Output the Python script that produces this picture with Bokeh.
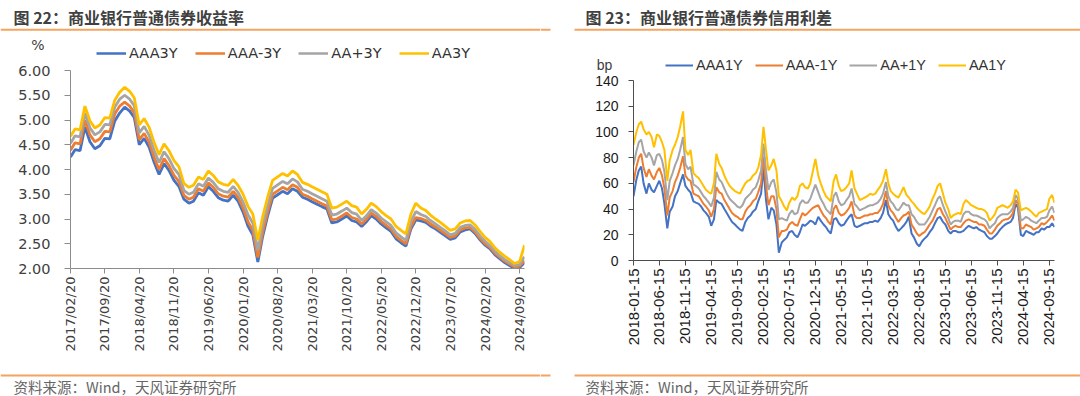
import math
import pandas as pd
from bokeh.plotting import figure
from bokeh.layouts import row, column
from bokeh.models import (Range1d, FixedTicker, DatetimeTickFormatter, PrintfTickFormatter,
                          Legend, LegendItem, ColumnDataSource)
from bokeh.core.properties import value
from bokeh.embed import file_html
from bokeh.resources import INLINE

# ---------------- Chart 22: yields (%), monthly ----------------
yield_title = "图 22：商业银行普通债券收益率"
yield_unit = "%"
yield_start = "2017-02-20"
yield_names = ["AAA3Y", "AAA-3Y", "AA+3Y", "AA3Y"]
aaa3y = [4.25, 4.40, 4.38, 4.86, 4.56, 4.42, 4.48, 4.63, 4.62, 4.98,
         5.14, 5.26, 5.18, 5.05, 4.50, 4.63, 4.45, 4.15, 3.90, 4.12,
         3.98, 3.78, 3.66, 3.40, 3.32, 3.36, 3.53, 3.48, 3.65, 3.56,
         3.43, 3.38, 3.36, 3.48, 3.36, 3.14, 2.85, 2.68, 2.13, 2.65,
         3.07, 3.42, 3.49, 3.56, 3.51, 3.61, 3.56, 3.44, 3.40, 3.35,
         3.30, 3.25, 3.20, 2.92, 2.94, 3.00, 3.06, 2.97, 2.94, 2.85,
         2.95, 3.07, 3.00, 2.90, 2.82, 2.75, 2.60, 2.52, 2.45, 2.80,
         2.98, 2.96, 2.93, 2.86, 2.80, 2.73, 2.66, 2.59, 2.62, 2.74,
         2.78, 2.80, 2.71, 2.58, 2.47, 2.40, 2.28, 2.20, 2.12, 2.06,
         2.00, 2.02, 2.12]
aaa_minus_3y = [4.39, 4.54, 4.52, 5.00, 4.70, 4.56, 4.62, 4.77, 4.76, 5.12,
                5.28, 5.36, 5.28, 5.15, 4.60, 4.73, 4.55, 4.25, 4.00, 4.22,
                4.08, 3.88, 3.76, 3.48, 3.40, 3.44, 3.61, 3.56, 3.73, 3.64,
                3.51, 3.46, 3.44, 3.56, 3.44, 3.22, 2.94, 2.77, 2.22, 2.73,
                3.15, 3.50, 3.57, 3.64, 3.59, 3.69, 3.64, 3.50, 3.46, 3.41,
                3.36, 3.31, 3.26, 2.98, 3.00, 3.06, 3.12, 3.03, 3.00, 2.90,
                3.00, 3.12, 3.05, 2.95, 2.87, 2.80, 2.65, 2.57, 2.50, 2.85,
                3.03, 3.01, 2.97, 2.90, 2.84, 2.77, 2.70, 2.63, 2.66, 2.78,
                2.82, 2.83, 2.74, 2.61, 2.50, 2.43, 2.31, 2.23, 2.15, 2.09,
                2.03, 2.05, 2.16]
aa_plus_3y = [4.53, 4.68, 4.66, 5.14, 4.84, 4.70, 4.76, 4.91, 4.90, 5.26,
              5.42, 5.50, 5.42, 5.29, 4.74, 4.87, 4.69, 4.39, 4.14, 4.36,
              4.22, 4.02, 3.90, 3.58, 3.50, 3.54, 3.71, 3.66, 3.83, 3.74,
              3.61, 3.56, 3.54, 3.66, 3.54, 3.34, 3.08, 2.92, 2.37, 2.87,
              3.28, 3.62, 3.69, 3.76, 3.71, 3.81, 3.75, 3.60, 3.56, 3.51,
              3.46, 3.41, 3.36, 3.08, 3.10, 3.16, 3.22, 3.13, 3.10, 2.97,
              3.07, 3.19, 3.12, 3.02, 2.94, 2.87, 2.72, 2.64, 2.57, 2.95,
              3.15, 3.09, 3.05, 2.97, 2.90, 2.83, 2.76, 2.68, 2.71, 2.83,
              2.87, 2.88, 2.79, 2.66, 2.55, 2.47, 2.35, 2.26, 2.18, 2.12,
              2.06, 2.08, 2.24]
aa3y = [4.67, 4.82, 4.80, 5.28, 4.98, 4.84, 4.90, 5.05, 5.04, 5.40,
        5.56, 5.66, 5.58, 5.45, 4.90, 5.03, 4.85, 4.55, 4.30, 4.52,
        4.38, 4.18, 4.06, 3.72, 3.64, 3.68, 3.85, 3.80, 3.97, 3.88,
        3.75, 3.70, 3.68, 3.80, 3.68, 3.50, 3.25, 3.10, 2.57, 3.05,
        3.45, 3.78, 3.85, 3.92, 3.87, 3.97, 3.90, 3.74, 3.70, 3.65,
        3.60, 3.55, 3.50, 3.22, 3.24, 3.30, 3.36, 3.27, 3.24, 3.10,
        3.20, 3.32, 3.25, 3.15, 3.07, 3.00, 2.85, 2.77, 2.70, 3.10,
        3.32, 3.22, 3.17, 3.08, 3.00, 2.93, 2.85, 2.77, 2.80, 2.92,
        2.96, 2.97, 2.88, 2.75, 2.63, 2.55, 2.42, 2.33, 2.25, 2.18,
        2.10, 2.14, 2.47]
yield_tick_labels = ["2017/02/20", "2017/09/20", "2018/04/20", "2018/11/20", "2019/06/20",
                     "2020/01/20", "2020/08/20", "2021/03/20", "2021/10/20", "2022/05/20",
                     "2022/12/20", "2023/07/20", "2024/02/20", "2024/09/20"]
yield_y_ticks = [2.0, 2.5, 3.0, 3.5, 4.0, 4.5, 5.0, 5.5, 6.0]

# ---------------- Chart 23: credit spreads (bp), semi-monthly ----------------
spread_title = "图 23：商业银行普通债券信用利差"
spread_unit = "bp"
spread_start = "2018-01-15"
spread_end = "2024-10-15"
spread_names = ["AAA1Y", "AAA-1Y", "AA+1Y", "AA1Y"]
aaa1y = [50, 63, 70, 73, 60, 52, 60, 55, 53, 58,
         62, 56, 44, 25, 38, 42, 50, 54, 60, 67,
         58, 55, 53, 46, 45, 44, 42, 39, 37, 34,
         27, 32, 47, 45, 44, 40, 37, 33, 30, 28,
         26, 24, 23, 30, 33, 35, 38, 40, 46, 52,
         72, 47, 32, 41, 39, 28, 6, 14, 16, 18,
         22, 23, 20, 18, 22, 28, 27, 29, 31, 30,
         28, 34, 31, 28, 26, 23, 21, 32, 33, 29,
         27, 28, 31, 34, 36, 27, 26, 27, 28, 29,
         29, 30, 30, 31, 30, 33, 37, 47, 36, 33,
         31, 26, 23, 25, 27, 30, 34, 21, 18, 13,
         11, 15, 17, 19, 22, 25, 29, 33, 34, 30,
         28, 23, 21, 23, 23, 22, 22, 23, 25, 27,
         26, 25, 26, 24, 23, 22, 19, 17, 17, 19,
         21, 24, 26, 28, 29, 30, 33, 44, 41, 20,
         19, 23, 22, 21, 20, 22, 22, 25, 24, 26,
         26, 29, 26]
aaa_minus_1y = [61, 73, 80, 83, 72, 65, 71, 66, 63, 69,
                72, 66, 56, 35, 49, 54, 61, 66, 72, 81,
                66, 63, 62, 52, 51, 50, 47, 44, 42, 39,
                34, 40, 57, 53, 52, 47, 44, 40, 37, 35,
                34, 32, 32, 38, 41, 43, 46, 48, 53, 60,
                81, 58, 43, 50, 50, 40, 18, 23, 23, 24,
                28, 30, 28, 27, 32, 37, 35, 37, 39, 41,
                42, 43, 39, 35, 33, 30, 28, 40, 43, 37,
                35, 36, 38, 41, 46, 35, 33, 33, 34, 35,
                35, 36, 36, 37, 37, 40, 44, 54, 43, 39,
                37, 33, 30, 33, 35, 36, 38, 28, 25, 21,
                19, 21, 22, 25, 28, 31, 35, 40, 41, 36,
                33, 28, 24, 26, 27, 26, 26, 29, 31, 32,
                31, 30, 30, 28, 28, 27, 24, 21, 21, 24,
                27, 29, 31, 32, 32, 34, 37, 47, 44, 25,
                25, 28, 27, 26, 24, 25, 26, 29, 28, 30,
                32, 35, 31]
aa_plus_1y = [74, 85, 92, 94, 85, 80, 84, 80, 74, 82,
              83, 78, 69, 47, 62, 68, 74, 79, 86, 96,
              75, 71, 73, 59, 58, 56, 53, 50, 48, 45,
              42, 49, 69, 63, 61, 56, 52, 48, 46, 44,
              42, 41, 43, 48, 50, 52, 55, 57, 62, 70,
              91, 70, 55, 61, 63, 53, 32, 33, 32, 31,
              36, 39, 36, 37, 44, 47, 45, 45, 48, 54,
              59, 53, 48, 44, 40, 38, 36, 50, 53, 46,
              43, 44, 47, 50, 56, 44, 42, 39, 40, 41,
              42, 43, 43, 44, 45, 48, 52, 61, 50, 46,
              44, 40, 39, 42, 45, 43, 43, 36, 34, 30,
              28, 28, 28, 31, 34, 39, 43, 48, 50, 43,
              38, 33, 28, 30, 31, 31, 30, 36, 38, 38,
              36, 35, 35, 34, 33, 32, 30, 25, 27, 29,
              33, 35, 36, 36, 36, 38, 41, 51, 48, 31,
              32, 34, 33, 31, 30, 29, 31, 33, 33, 34,
              39, 42, 37]
aa1y = [90, 100, 106, 108, 102, 98, 100, 96, 88, 98,
        97, 92, 86, 62, 78, 86, 90, 96, 104, 116,
        86, 82, 86, 68, 66, 64, 61, 58, 55, 53,
        52, 60, 83, 75, 72, 66, 62, 58, 56, 54,
        53, 52, 56, 60, 62, 63, 66, 68, 72, 82,
        104, 86, 70, 74, 79, 70, 50, 46, 42, 39,
        45, 49, 47, 50, 58, 60, 57, 56, 60, 70,
        79, 66, 60, 54, 50, 48, 46, 62, 67, 58,
        54, 55, 57, 60, 70, 56, 52, 47, 48, 49,
        50, 52, 51, 52, 55, 58, 62, 71, 60, 54,
        52, 50, 49, 53, 57, 51, 49, 46, 44, 41,
        39, 37, 36, 39, 42, 48, 52, 58, 60, 52,
        45, 40, 33, 35, 36, 37, 36, 44, 47, 45,
        43, 42, 41, 40, 40, 39, 37, 31, 33, 36,
        41, 42, 43, 42, 41, 43, 46, 55, 53, 39,
        40, 41, 40, 38, 36, 34, 37, 38, 39, 40,
        48, 51, 45]
spread_tick_labels = ["2018-01-15", "2018-06-15", "2018-11-15", "2019-04-15", "2019-09-15",
                      "2020-02-15", "2020-07-15", "2020-12-15", "2021-05-15", "2021-10-15",
                      "2022-03-15", "2022-08-15", "2023-01-15", "2023-06-15", "2023-11-15",
                      "2024-04-15", "2024-09-15"]
spread_y_ticks = [0, 20, 40, 60, 80, 100, 120, 140]

source_note = "资料来源：Wind，天风证券研究所"

# ---------------- styles ----------------
COLORS = ["#4472C4", "#ED7D31", "#A5A5A5", "#FFC000"]
ORANGE = "#F4A460"
CJK = "Noto Sans CJK SC"
W = 540

yield_dates = [pd.Timestamp(yield_start) + pd.DateOffset(months=i) for i in range(len(aa3y))]
spread_dates = list(pd.date_range(spread_start, spread_end, freq="SMS"))


def ms(ts):
    return pd.Timestamp(ts).value / 1e6


def blank(height):
    f = figure(width=W, height=height, x_range=Range1d(0, W), y_range=Range1d(height, 0),
               output_backend="svg", toolbar_location=None, min_border=0,
               x_axis_location=None, y_axis_location=None, outline_line_color=None)
    f.frame_align = False
    f.grid.visible = False
    return f


def header(height, title, title_x, spans, unit, unit_xy, unit_font, names, legend_loc,
           font, fsize, spacing, glyph_w, lw):
    f = blank(height)
    for x0, x1 in spans:
        f.segment(x0=[x0], y0=[29.3], x1=[x1], y1=[29.3], line_color=ORANGE, line_width=2)
    f.text(x=[title_x], y=[16.5], text=[title], text_font=value(CJK), text_font_size="16px",
           text_font_style="bold", text_color="#404040", text_baseline="middle", text_align="left")
    f.text(x=[unit_xy[0]], y=[unit_xy[1]], text=[unit], text_font=value(unit_font),
           text_font_size="14px", text_color="#404040", text_baseline="middle", text_align="center")
    items = []
    for name, c in zip(names, COLORS):
        # legend key renderer, kept outside the visible range
        r = f.line(x=[-50, -40], y=[-50, -50], line_color=c, line_width=lw)
        items.append(LegendItem(label=value(name), renderers=[r]))
    lg = Legend(items=items, location=legend_loc, orientation="horizontal", padding=0, margin=0,
                spacing=spacing, glyph_width=glyph_w, glyph_height=16, label_height=16,
                label_standoff=3, border_line_color=None, background_fill_alpha=0,
                label_text_font=font, label_text_font_size=fsize, label_text_color="#333333")
    f.add_layout(lg)
    return f


def footer(text_x, spans):
    f = blank(30)
    for x0, x1 in spans:
        f.segment(x0=[x0], y0=[9], x1=[x1], y1=[9], line_color=ORANGE, line_width=2)
    f.text(x=[text_x], y=[20], text=[source_note], text_font=value(CJK), text_font_size="14.5px",
           text_color="#666666", text_baseline="middle", text_align="left")
    return f


def style_axes(p, font, xfmt, xticks, yticks, yfmt, axis_color, label_color, xsize, ysize, ystand, ytick):
    p.frame_align = False
    p.xgrid.visible = False
    p.ygrid.visible = False
    p.outline_line_color = None
    xa = p.xaxis[0]
    xa.ticker = FixedTicker(ticks=xticks)
    xa.formatter = DatetimeTickFormatter(days=xfmt, months=xfmt, years=xfmt, hours=xfmt,
                                         hourmin=xfmt, minutes=xfmt, minsec=xfmt, seconds=xfmt,
                                         milliseconds=xfmt, microseconds=xfmt)
    xa.major_label_orientation = math.pi / 2
    xa.major_tick_in = 0
    xa.major_tick_out = 5
    xa.major_label_standoff = 3
    xa.major_label_text_font_size = xsize
    ya = p.yaxis[0]
    ya.ticker = FixedTicker(ticks=yticks)
    ya.formatter = PrintfTickFormatter(format=yfmt)
    ya.major_tick_in = 0
    ya.major_tick_out = ytick
    ya.major_label_standoff = ystand
    ya.major_label_text_font_size = ysize
    for a in (xa, ya):
        a.minor_tick_line_color = None
        a.axis_line_color = axis_color
        a.major_tick_line_color = axis_color
        a.major_label_text_font = font
        a.major_label_text_color = label_color


# ---------------- left panel (frame: page x 70..524, y 70..268) ----------------
srcL = ColumnDataSource(dict(date=yield_dates, s0=aaa3y, s1=aaa_minus_3y, s2=aa_plus_3y, s3=aa3y))
pL = figure(width=W, height=305, x_axis_type="datetime",
            x_range=Range1d(yield_dates[0], yield_dates[-1]), y_range=Range1d(2.0, 6.0),
            output_backend="svg", toolbar_location=None,
            min_border_left=70, min_border_right=16, min_border_top=9, min_border_bottom=98)
for i, c in enumerate(COLORS):
    pL.line(x="date", y=f"s{i}", source=srcL, line_color=c, line_width=2.8)
style_axes(pL, "DejaVu Sans", "%Y/%m/%d",
           [ms(s.replace("/", "-")) for s in yield_tick_labels], yield_y_ticks, "%.2f",
           "#8c8c8c", "#404040", "13px", "14.5px", 14, 6)

hL = header(61, yield_title, 13, [(0, W)], yield_unit, (37.5, 44), "DejaVu Sans",
            yield_names, (96, 0), "DejaVu Sans", "14.5px", 17, 30, 2.5)
fL = footer(13, [(0, W)])

# ---------------- right panel (frame: page x 633..1054, y 80..260) ----------------
srcR = ColumnDataSource(dict(date=spread_dates, s0=aaa1y, s1=aaa_minus_1y, s2=aa_plus_1y, s3=aa1y))
pR = figure(width=W, height=293, x_axis_type="datetime",
            x_range=Range1d(spread_dates[0], spread_dates[-1]), y_range=Range1d(0, 140),
            output_backend="svg", toolbar_location=None,
            min_border_left=93, min_border_right=26, min_border_top=7, min_border_bottom=106)
for i, c in enumerate(COLORS):
    pR.line(x="date", y=f"s{i}", source=srcR, line_color=c, line_width=2)
style_axes(pR, "Liberation Sans", "%Y-%m-%d",
           [ms(s) for s in spread_tick_labels], spread_y_ticks, "%d",
           "#4d4d4d", "#1a1a1a", "15px", "14px", 10, 5)

hR = header(73, spread_title, 45, [(0, 10), (34, W)], spread_unit, (64, 64.5), "Liberation Sans",
            spread_names, (125, 0), "Liberation Sans", "14.5px", 12, 28, 2)
fR = footer(45, [(0, 10), (34, W)])

layout = row(column(hL, pL, fL), column(hR, pR, fR))

open("out.html", "w").write(file_html(layout, INLINE))
